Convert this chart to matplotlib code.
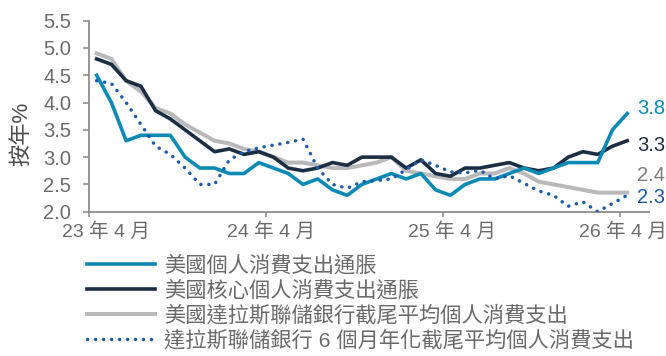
import numpy as np
import matplotlib
matplotlib.use("Agg")
from matplotlib import pyplot as plt

plt.rcParams['font.family'] = ['Liberation Sans', 'Noto Sans CJK TC']

# monthly points, Apr 2023 .. Apr 2026
months = np.arange(37)
tick_labels = ["23 年 4 月", "24 年 4 月", "25 年 4 月", "26 年 4 月"]

pce = [4.5, 4.0, 3.3, 3.4, 3.4, 3.4, 3.0, 2.8, 2.8, 2.7, 2.7, 2.9,
       2.8, 2.7, 2.5, 2.6, 2.4, 2.3, 2.5, 2.6, 2.7, 2.6, 2.7, 2.4,
       2.3, 2.5, 2.6, 2.6, 2.7, 2.8, 2.7, 2.8, 2.9, 2.9, 2.9, 3.5, 3.8]
core_pce = [4.8, 4.7, 4.4, 4.3, 3.85, 3.7, 3.5, 3.3, 3.1, 3.15, 3.05, 3.1,
            3.0, 2.8, 2.75, 2.8, 2.9, 2.85, 3.0, 3.0, 3.0, 2.8, 2.95, 2.7,
            2.65, 2.8, 2.8, 2.85, 2.9, 2.8, 2.75, 2.8, 3.0, 3.1, 3.05, 3.2, 3.3]
trimmed_12m = [4.9, 4.8, 4.4, 4.2, 3.9, 3.8, 3.6, 3.45, 3.3, 3.25, 3.15, 3.1,
               3.0, 2.9, 2.9, 2.85, 2.8, 2.8, 2.85, 2.9, 3.0, 2.75, 2.7, 2.65,
               2.6, 2.6, 2.7, 2.7, 2.8, 2.7, 2.55, 2.5, 2.45, 2.4, 2.35, 2.35, 2.35]
trimmed_6m = [4.4, 4.35, 4.0, 3.6, 3.2, 3.05, 2.8, 2.5, 2.5, 2.95, 3.1, 3.17,
              3.22, 3.27, 3.33, 2.8, 2.5, 2.43, 2.55, 2.57, 2.6, 2.77, 2.95, 2.85,
              2.73, 2.71, 2.76, 2.6, 2.66, 2.52, 2.38, 2.3, 2.1, 2.18, 2.0, 2.15, 2.3]

names = ["美國個人消費支出通脹", "美國核心個人消費支出通脹",
         "美國達拉斯聯儲銀行截尾平均個人消費支出",
         "達拉斯聯儲銀行 6 個月年化截尾平均個人消費支出"]
end_labels = ["3.8", "3.3", "2.4", "2.3"]

c_pce = "#0a8ab4"
c_core = "#1b2e44"
c_trim = "#b9b9bb"
c_six = "#1c5bab"
txt = "#6a6a6a"

fig = plt.figure(figsize=(6.66, 3.56), dpi=100)
ax = fig.add_axes([89.3 / 666, 1 - 211.7 / 356, (649.3 - 89.3) / 666, (211.7 - 20.7) / 356])

l_trim, = ax.plot(months, trimmed_12m, color=c_trim, lw=2.9, label=names[2], zorder=2)
l_core, = ax.plot(months, core_pce, color=c_core, lw=2.6, label=names[1], zorder=3)
l_pce, = ax.plot(months, pce, color=c_pce, lw=2.6, label=names[0], zorder=4)
l_six, = ax.plot(months, trimmed_6m, color=c_six, lw=2.5, linestyle=(0, (0.05, 2.25)),
                 dash_capstyle='round', label=names[3], zorder=5)

ax.set_xlim(-0.5, 37.5)
ax.set_ylim(2.0, 5.5)
ax.set_yticks(np.arange(2.0, 5.51, 0.5))
ax.set_yticklabels([f"{v:.1f}" for v in np.arange(2.0, 5.51, 0.5)])

# ticks sit on month boundaries, labels a little to the right
ax.set_xticks([-0.5, 11.5, 23.5, 35.5])
ax.set_xticklabels([])
label_pos = [0.6, 11.85, 24.1, 35.7]
for xp, lab in zip(label_pos, tick_labels):
    ax.text(xp, -0.105, lab, transform=ax.get_xaxis_transform(), ha='center', va='center',
            fontsize=14, color=txt, clip_on=False)

for s in ['top', 'right']:
    ax.spines[s].set_visible(False)
for s in ['left', 'bottom']:
    ax.spines[s].set_color("#8e8e8e")
    ax.spines[s].set_linewidth(1.3)
ax.tick_params(axis='y', direction='out', length=4.5, width=1.2, color="#8e8e8e",
               labelsize=14.5, labelcolor=txt, pad=8.5)
ax.tick_params(axis='x', direction='out', length=3.5, width=1.2, color="#8e8e8e")

ax.set_ylabel("按年%", fontsize=16, color="#4d4d4d")
ax.yaxis.set_label_coords(-0.102, 0.41)

# value labels at the end of the lines
offsets = [5, -5, 17, -2]
colors = [c_pce, c_core, "#7d7d7d", c_six]
lasts = [pce[-1], core_pce[-1], trimmed_12m[-1], trimmed_6m[-1]]
for val, lab, dy, col in zip(lasts, end_labels, offsets, colors):
    ax.annotate(lab, (months[-1], val), xytext=(10, dy), textcoords='offset pixels',
                ha='left', va='center', fontsize=14.5, color=col, annotation_clip=False)

fig.legend(handles=[l_pce, l_core, l_trim, l_six], loc='upper left',
           bbox_to_anchor=(87.3 / 666, 1 - 255 / 356), frameon=False, fontsize=15.3,
           handlelength=3.2, handletextpad=0.42, labelspacing=0.2, borderpad=0,
           borderaxespad=0, labelcolor=txt)

fig.savefig("out.png", dpi=100)
